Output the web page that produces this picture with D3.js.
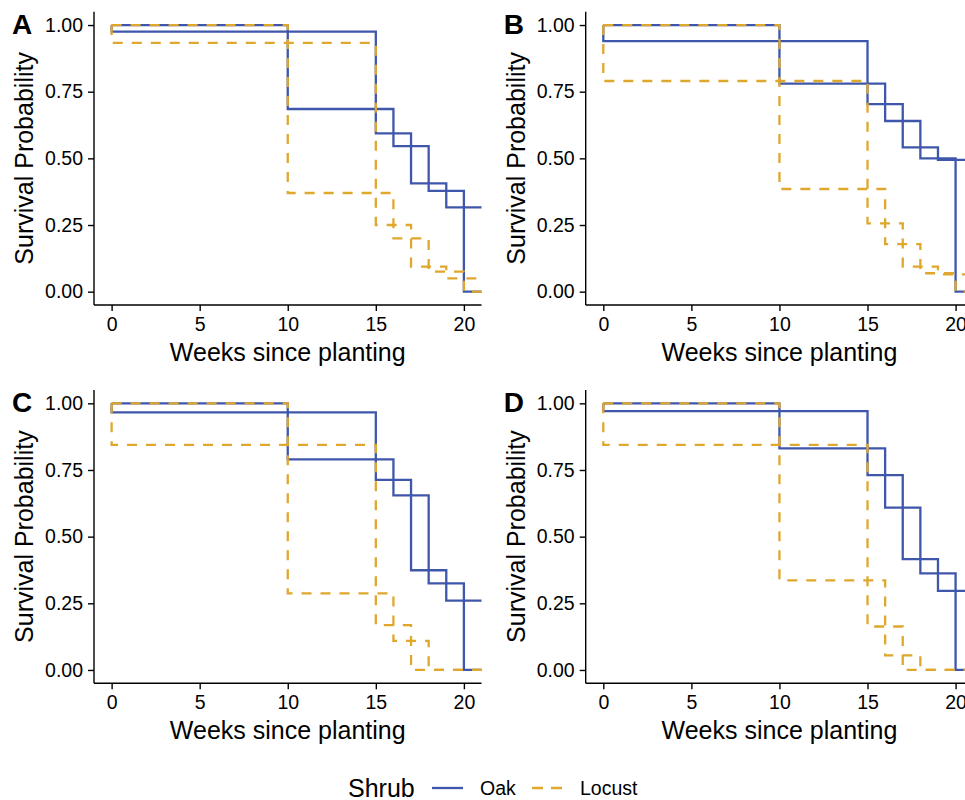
<!DOCTYPE html>
<html>
<head>
<meta charset="utf-8">
<script src="https://cdn.jsdelivr.net/npm/d3@7"></script>
<style>
  body { margin: 0; background: #fff; }
  svg text { font-family: "Liberation Sans", Arial, sans-serif; fill: #000; }
</style>
</head>
<body>
<div id="chart"></div>
<script>
// ====== data ======
const panels = ["A", "B", "C", "D"];
const weekTicks = [0, 5, 10, 15, 20];
const probTicks = [0, 0.25, 0.5, 0.75, 1];
const lastWeek = 21;

// weeks at which each curve steps down
const timesEarly = [10, 16, 18, 20];
const timesLate  = [0, 15, 17, 19];

// survival after each step, one row per panel (A, B, C, D)
const oakEarly = [
  [0.685, 0.546, 0.378, 0],
  [0.78, 0.64, 0.50, 0],
  [0.79, 0.655, 0.325, 0],
  [0.831, 0.609, 0.362, 0]
];
const oakLate = [
  [0.975, 0.594, 0.406, 0.316],
  [0.94, 0.703, 0.541, 0.494],
  [0.966, 0.713, 0.374, 0.26],
  [0.971, 0.731, 0.416, 0.297]
];
const locustEarly = [
  [0.37, 0.20, 0.075, 0],
  [0.385, 0.178, 0.069, 0],
  [0.287, 0.109, 0, 0],
  [0.336, 0.055, 0, 0]
];
const locustLate = [
  [0.933, 0.25, 0.094, 0.05],
  [0.79, 0.256, 0.094, 0.065],
  [0.844, 0.168, 0, 0],
  [0.844, 0.163, 0, 0]
];

const shrubs = ["Oak", "Locust"];
const colors = { Oak: "#3F57AB", Locust: "#E0A72D" };
const dashes = { Oak: null, Locust: "10,9" };

// ====== layout ======
const W = 965, H = 800;
const cellW = 491.7, cellH = 378.3;
const margin = { top: 11.7, left: 94 };
const innerW = 387.5, innerH = 293.3;

const svg = d3.select("#chart").append("svg")
  .attr("width", W).attr("height", H);

const x = d3.scaleLinear().domain([-1, 21]).range([0, innerW]);
const y = d3.scaleLinear().domain([-0.05, 1.05]).range([innerH, 0]);

const line = d3.line()
  .x(d => x(d[0]))
  .y(d => y(d[1]))
  .curve(d3.curveStepAfter);

function curvePoints(times, values) {
  const pts = [[0, 1]];
  times.forEach((t, i) => pts.push([t, values[i]]));
  pts.push([lastWeek, values[values.length - 1]]);
  return pts;
}

panels.forEach((label, p) => {
  const col = p % 2, row = Math.floor(p / 2);
  const g = svg.append("g")
    .attr("transform", `translate(${col * cellW + margin.left},${row * cellH + margin.top})`);

  // curves: oak first, locust drawn on top
  const curves = [
    { shrub: "Oak", pts: curvePoints(timesEarly, oakEarly[p]) },
    { shrub: "Oak", pts: curvePoints(timesLate, oakLate[p]) },
    { shrub: "Locust", pts: curvePoints(timesEarly, locustEarly[p]) },
    { shrub: "Locust", pts: curvePoints(timesLate, locustLate[p]) }
  ];
  g.selectAll("path.curve")
    .data(curves)
    .join("path")
    .attr("class", "curve")
    .attr("d", d => line(d.pts))
    .attr("fill", "none")
    .attr("stroke", d => colors[d.shrub])
    .attr("stroke-width", 2.3)
    .attr("stroke-dasharray", d => dashes[d.shrub]);

  // axes
  const xAxis = g.append("g")
    .attr("transform", `translate(0,${innerH})`)
    .call(d3.axisBottom(x).tickValues(weekTicks).tickSize(6).tickPadding(6).tickSizeOuter(0));
  const yAxis = g.append("g")
    .call(d3.axisLeft(y).tickValues(probTicks).tickFormat(d3.format(".2f")).tickSize(6).tickPadding(5).tickSizeOuter(0));
  [xAxis, yAxis].forEach(a => {
    a.select(".domain").attr("stroke", "#000").attr("stroke-width", 1.4);
    a.selectAll(".tick line").attr("stroke", "#000").attr("stroke-width", 1.4);
    a.selectAll(".tick text").style("font-size", "19.5px").attr("fill", "#000");
    a.attr("font-family", null);
  });
  // extend domains across the whole panel (ggplot style)
  xAxis.select(".domain").attr("d", `M0,0H${innerW}`);
  yAxis.select(".domain").attr("d", `M0,${innerH}V0`);

  // axis titles
  g.append("text")
    .attr("x", innerW / 2)
    .attr("y", innerH + 56)
    .attr("text-anchor", "middle")
    .style("font-size", "25px")
    .text("Weeks since planting");
  g.append("text")
    .attr("transform", `translate(${33 - margin.left},${innerH / 2}) rotate(-90)`)
    .attr("text-anchor", "middle")
    .style("font-size", "25px")
    .text("Survival Probability");

  // panel tag
  svg.append("text")
    .attr("x", col * cellW + 12)
    .attr("y", row * cellH + 34)
    .style("font-size", "28px")
    .style("font-weight", "bold")
    .text(label);
});

// ====== legend ======
const legY = 788;
const leg = svg.append("g");
leg.append("text")
  .attr("x", 348).attr("y", legY).attr("dy", "0.35em")
  .style("font-size", "25px")
  .text("Shrub");

const legItems = [
  { shrub: "Oak", x0: 432, tx: 480 },
  { shrub: "Locust", x0: 532, tx: 580 }
];
legItems.forEach(d => {
  leg.append("line")
    .attr("x1", d.x0).attr("x2", d.x0 + 31)
    .attr("y1", legY).attr("y2", legY)
    .attr("stroke", colors[d.shrub])
    .attr("stroke-width", 2.3)
    .attr("stroke-dasharray", d.shrub === "Locust" ? "11,8" : null);
  leg.append("text")
    .attr("x", d.tx).attr("y", legY).attr("dy", "0.35em")
    .style("font-size", "19.5px")
    .text(d.shrub);
});
</script>
</body>
</html>
